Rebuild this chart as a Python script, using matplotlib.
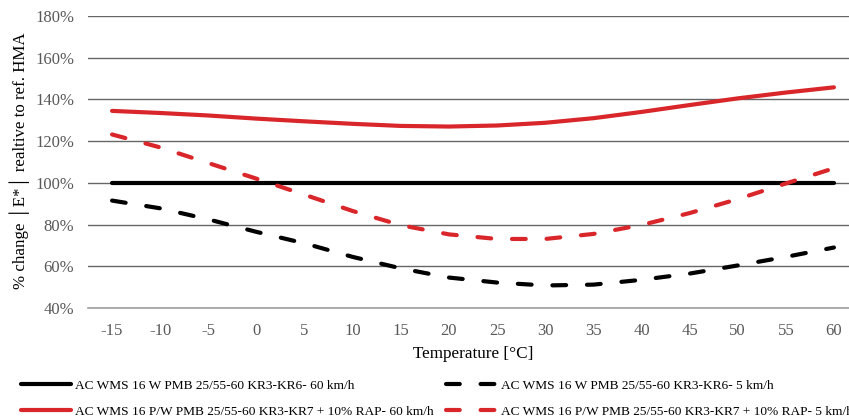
import matplotlib
matplotlib.use("Agg")
import matplotlib.pyplot as plt
from matplotlib.ticker import FuncFormatter

plt.rcParams['font.family'] = ['Liberation Serif', 'DejaVu Serif']

temps = [-15, -10, -5, 0, 5, 10, 15, 20, 25, 30, 35, 40, 45, 50, 55, 60]
ref_60 = [100] * 16
black_5 = [91.5, 87.8, 82.5, 76.5, 71.0, 64.5, 59.0, 54.6, 52.2, 50.8, 51.2, 53.5, 56.5, 60.4, 64.5, 69.0]
red_60 = [134.5, 133.5, 132.3, 130.8, 129.5, 128.3, 127.3, 127.0, 127.5, 128.8, 131.0, 134.0, 137.3, 140.5, 143.3, 145.8]
red_5 = [123.2, 117.0, 109.5, 102.0, 94.3, 86.5, 79.7, 75.3, 73.1, 73.1, 75.5, 79.8, 85.5, 92.2, 99.7, 107.0]

labels = [
    "AC WMS 16 W PMB 25/55-60 KR3-KR6- 60 km/h",
    "AC WMS 16 P/W PMB 25/55-60 KR3-KR7 + 10% RAP- 60 km/h",
    "AC WMS 16 W PMB 25/55-60 KR3-KR6- 5 km/h",
    "AC WMS 16 P/W PMB 25/55-60 KR3-KR7 + 10% RAP- 5 km/h",
]
yticks = [40, 60, 80, 100, 120, 140, 160, 180]

RED = '#d9262a'
fig = plt.figure(figsize=(8.49, 4.17), dpi=100)
ax = fig.add_axes([88/849, 1-308/417, (858-88)/849, (308-16)/417])

dash = (0, (3.3, 5.0))
h1, = ax.plot(temps, ref_60, color='black', lw=3, solid_capstyle='round', label=labels[0], zorder=3)
h2, = ax.plot(temps, red_60, color=RED, lw=3, solid_capstyle='round', label=labels[1], zorder=3)
h3, = ax.plot(temps, black_5, color='black', lw=3, linestyle=dash, dash_capstyle='round', label=labels[2], zorder=3)
h4, = ax.plot(temps, red_5, color=RED, lw=3, linestyle=dash, dash_capstyle='round', label=labels[3], zorder=3)

ax.set_xlim(-17.5, 62.5)
ax.set_ylim(40, 180)
ax.set_xticks(temps)
ax.set_xticklabels([str(t) for t in temps])
ax.set_yticks(yticks)
ax.yaxis.set_major_formatter(FuncFormatter(lambda v, p: f"{v:.0f}%"))
ax.tick_params(length=0, labelsize=12, colors='#595959')
ax.tick_params(axis='y', pad=10)
ax.tick_params(axis='x', pad=11)
ax.grid(axis='y', color='#666666', lw=1.0, zorder=1)
for s in ['top', 'right', 'left']:
    ax.spines[s].set_visible(False)
ax.spines['bottom'].set_color('#a0a0a0')
ax.spines['bottom'].set_linewidth(1.2)

ax.set_xlabel("Temperature [°C]", fontsize=12.3, color='black', labelpad=5)
fig.text(20/849, 1-161/417, "% change │E*│ realtive to ref. HMA", rotation=90,
         ha='center', va='center', fontsize=12.2, color='black')

fig.legend(handles=[h1, h2, h3, h4], loc='upper left', bbox_to_anchor=(14/849, 1-373/417),
           ncol=2, frameon=False, fontsize=9.6, handlelength=3.8, handletextpad=0.3,
           columnspacing=0.9, labelspacing=1.0, borderpad=0)

fig.savefig("out.png", dpi=100)
